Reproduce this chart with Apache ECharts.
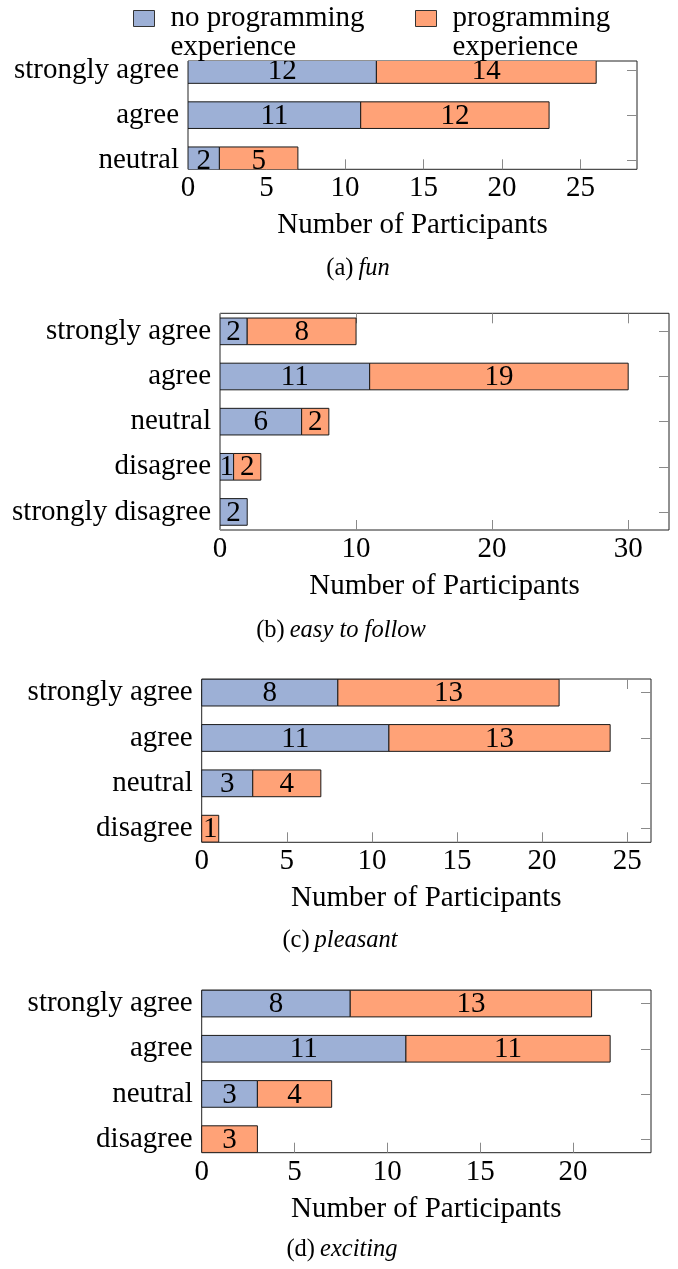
<!DOCTYPE html>
<html><head><meta charset="utf-8">
<script src="https://cdn.jsdelivr.net/npm/echarts@6/dist/echarts.min.js"></script>
<style>html,body{margin:0;padding:0;background:#fff}#c{width:678px;height:1269px}</style>
</head><body><div id="c"></div>
<script>
// ---- data ----
const seriesNames = ['no programming experience', 'programming experience'];

const catsFun = ['strongly agree', 'agree', 'neutral'];
const noProgFun = [12, 11, 2];
const progFun = [14, 12, 5];
const ticksFun = [0, 5, 10, 15, 20, 25];
const maxFun = 28.6;

const catsEasy = ['strongly agree', 'agree', 'neutral', 'disagree', 'strongly disagree'];
const noProgEasy = [2, 11, 6, 1, 2];
const progEasy = [8, 19, 2, 2, 0];
const ticksEasy = [0, 10, 20, 30];
const maxEasy = 33;

const catsPleasant = ['strongly agree', 'agree', 'neutral', 'disagree'];
const noProgPleasant = [8, 11, 3, 0];
const progPleasant = [13, 13, 4, 1];
const ticksPleasant = [0, 5, 10, 15, 20, 25];
const maxPleasant = 26.4;

const catsExciting = ['strongly agree', 'agree', 'neutral', 'disagree'];
const noProgExciting = [8, 11, 3, 0];
const progExciting = [13, 11, 4, 3];
const ticksExciting = [0, 5, 10, 15, 20];
const maxExciting = 24.2;

const captionLetters = ['(a)', '(b)', '(c)', '(d)'];
const captionWords = ['fun', 'easy to follow', 'pleasant', 'exciting'];

// ---- style / layout ----
const FONT = '"Liberation Serif", "DejaVu Serif", serif';
const FS = 29;
const CAP_FS = 24.5;
const BLUE = '#9db0d6';
const ORANGE = '#ffa277';
const BAR_UNITS = 0.59;
const TICK_COLOR = '#8a8a8a';

const panels = [
  {cats: catsFun, a: noProgFun, b: progFun, ticks: ticksFun, max: maxFun,
   left: 188, right: 41, top: 61, height: 108.3, capX: 358, capY: 270},
  {cats: catsEasy, a: noProgEasy, b: progEasy, ticks: ticksEasy, max: maxEasy,
   left: 220, right: 9, top: 313.3, height: 216.7, capX: 341, capY: 632},
  {cats: catsPleasant, a: noProgPleasant, b: progPleasant, ticks: ticksPleasant, max: maxPleasant,
   left: 201.7, right: 27, top: 679, height: 163.3, capX: 340, capY: 942},
  {cats: catsExciting, a: noProgExciting, b: progExciting, ticks: ticksExciting, max: maxExciting,
   left: 201.7, right: 27, top: 990, height: 162.7, capX: 342, capY: 1251}
];

function renderBar(color) {
  return function (params, api) {
    const x0 = api.value(0), x1 = api.value(1), idx = api.value(2), v = api.value(3);
    const p0 = api.coord([x0, idx]);
    const p1 = api.coord([x1, idx]);
    const h = Math.abs(api.size([0, BAR_UNITS])[1]);
    return {
      type: 'group',
      children: [
        {type: 'rect', shape: {x: p0[0], y: p0[1] - h / 2, width: p1[0] - p0[0], height: h},
         style: {fill: color, stroke: '#1a1a1a', lineWidth: 1}},
        {type: 'text', style: {text: String(v), x: (p0[0] + p1[0]) / 2, y: p0[1] + 1,
         textAlign: 'center', textVerticalAlign: 'middle', fontFamily: FONT, fontSize: FS, fill: '#000'}}
      ]
    };
  };
}

const noLine = {show: false, onZero: false};
const grid = [], xAxis = [], yAxis = [], series = [], title = [];
panels.forEach((p, k) => {
  const n = p.cats.length;
  const pad = 0.1 * (n - 1);
  const idxs = p.cats.map((_, i) => i);
  grid.push({left: p.left, right: p.right, top: p.top, height: p.height, show: true,
    borderColor: '#222', borderWidth: 1, backgroundColor: 'transparent'});
  const tickStyle = {show: true, inside: true, length: 10, customValues: p.ticks, lineStyle: {color: TICK_COLOR, width: 1}};
  xAxis.push({type: 'value', gridIndex: k, position: 'bottom', min: 0, max: p.max,
    axisLine: noLine, splitLine: {show: false}, axisTick: tickStyle,
    axisLabel: {customValues: p.ticks, fontFamily: FONT, fontSize: FS, color: '#000', margin: 5},
    name: 'Number of Participants', nameLocation: 'middle', nameGap: 42,
    nameTextStyle: {fontFamily: FONT, fontSize: FS, color: '#000'}});
  xAxis.push({type: 'value', gridIndex: k, position: 'top', min: 0, max: p.max,
    axisLine: noLine, splitLine: {show: false}, axisTick: tickStyle, axisLabel: {show: false}});
  yAxis.push({type: 'value', gridIndex: k, position: 'left', inverse: true, min: -pad, max: n - 1 + pad,
    axisLine: noLine, splitLine: {show: false}, axisTick: {show: false},
    axisLabel: {customValues: idxs, formatter: v => p.cats[Math.round(v)], fontFamily: FONT, fontSize: FS, color: '#000', margin: 9}});
  yAxis.push({type: 'value', gridIndex: k, position: 'right', inverse: true, min: -pad, max: n - 1 + pad,
    axisLine: noLine, splitLine: {show: false},
    axisTick: {show: true, inside: true, length: 10, customValues: idxs, lineStyle: {color: TICK_COLOR, width: 1}},
    axisLabel: {show: false}});
  const blueData = [], orangeData = [];
  p.cats.forEach((c, i) => {
    if (p.a[i] > 0) blueData.push([0, p.a[i], i, p.a[i]]);
    if (p.b[i] > 0) orangeData.push([p.a[i], p.a[i] + p.b[i], i, p.b[i]]);
  });
  series.push({type: 'custom', name: seriesNames[0], xAxisIndex: 2 * k, yAxisIndex: 2 * k, clip: true,
    itemStyle: {color: BLUE}, encode: {x: [0, 1], y: 2}, renderItem: renderBar(BLUE), data: blueData, silent: true});
  series.push({type: 'custom', name: seriesNames[1], xAxisIndex: 2 * k, yAxisIndex: 2 * k, clip: true,
    itemStyle: {color: ORANGE}, encode: {x: [0, 1], y: 2}, renderItem: renderBar(ORANGE), data: orangeData, silent: true});
  title.push({text: '{n|' + captionLetters[k] + '} {i|' + captionWords[k] + '}', left: p.capX, top: p.capY - 14,
    textAlign: 'center', padding: 0,
    textStyle: {fontWeight: 'normal', rich: {
      n: {fontFamily: FONT, fontSize: CAP_FS, fontWeight: 'normal', color: '#000'},
      i: {fontFamily: FONT, fontSize: CAP_FS, fontWeight: 'normal', fontStyle: 'italic', color: '#000'}}}});
});

// legend: the two-line label is centred on an empty first line so that
// the icon sits beside the first line, as in the reference
const legendRich = {t: {fontFamily: FONT, fontSize: FS, lineHeight: 29, color: '#000', padding: [0, 0, 0, 11]}};
const legendBase = {top: -25, padding: 0, itemWidth: 21, itemHeight: 16, icon: 'rect', selectedMode: false,
  formatter: name => '{t|\u00a0}\n{t|' + name.replace(' experience', '}\n{t|experience}'),
  textStyle: {fontFamily: FONT, fontSize: FS, color: '#000', rich: legendRich}};
const legend = [
  Object.assign({}, legendBase, {data: [seriesNames[0]], left: 133,
    itemStyle: {color: BLUE, borderColor: '#333', borderWidth: 1}}),
  Object.assign({}, legendBase, {data: [seriesNames[1]], left: 415,
    itemStyle: {color: ORANGE, borderColor: '#333', borderWidth: 1}})
];

const chart = echarts.init(document.getElementById('c'), null, {renderer: 'canvas'});
chart.setOption({animation: false, backgroundColor: '#fff', grid, xAxis, yAxis, series, title, legend});
</script></body></html>
